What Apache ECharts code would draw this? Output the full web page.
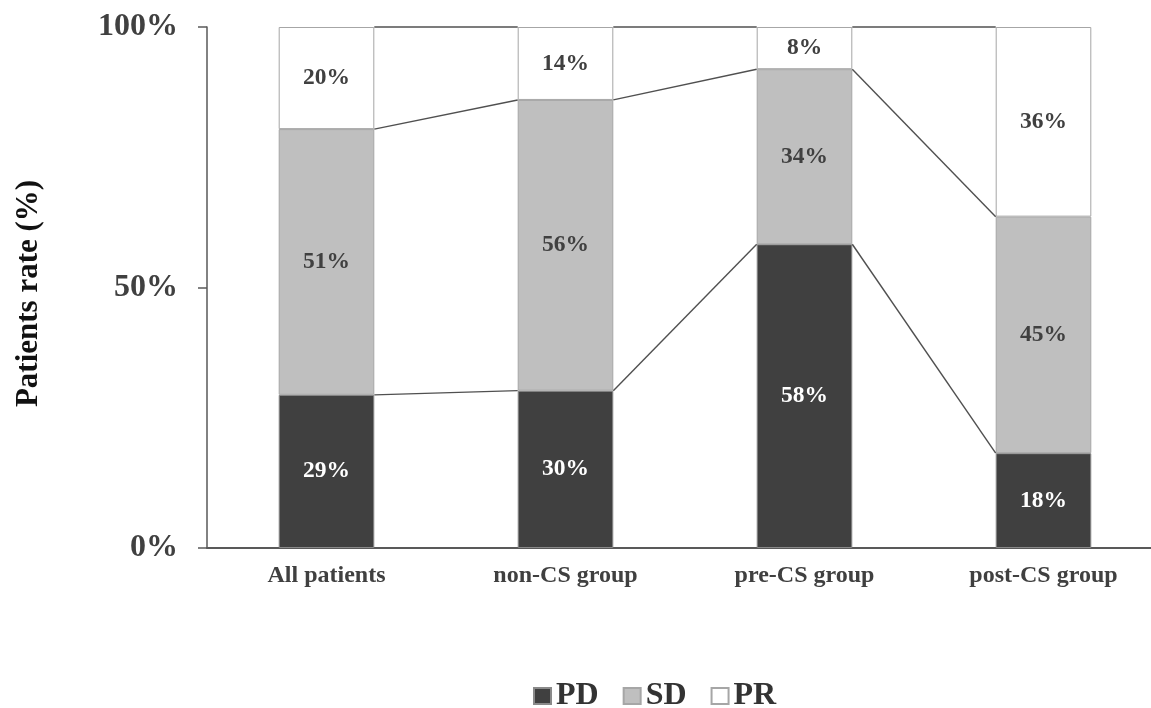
<!DOCTYPE html>
<html>
<head>
<meta charset="utf-8">
<script src="https://cdn.jsdelivr.net/npm/echarts@6/dist/echarts.min.js"></script>
<style>
html,body{margin:0;padding:0;background:#fff;overflow:hidden;width:1151px;height:708px;}
#chart{width:1170px;height:708px;}
</style>
</head>
<body>
<div id="chart"></div>
<script>
const categories = ['All patients', 'non-CS group', 'pre-CS group', 'post-CS group'];
const seriesNames = ['PD', 'SD', 'PR'];
const pdValues = [29.4, 30.2, 58.3, 18.2];
const sdValues = [51.0, 55.8, 33.6, 45.4];
const prValues = [19.6, 14.0, 8.1, 36.4];
const yTicks = [0, 50, 100];

const FONT = '"Liberation Serif", "Times New Roman", serif';
const BAR_FRAC = 0.4;

// cumulative boundaries for connector lines
const cum1 = pdValues.map((v) => v);
const cum2 = pdValues.map((v, i) => v + sdValues[i]);
const cum3 = pdValues.map((v, i) => v + sdValues[i] + prValues[i]);
const connectorData = [];
[cum1, cum2, cum3].forEach((arr) => {
  for (let i = 0; i < arr.length - 1; i++) {
    connectorData.push([i, arr[i], arr[i + 1]]);
  }
});

const chart = echarts.init(document.getElementById('chart'), null, {renderer: 'canvas'});

function labelFmt(p) { return Math.round(p.value) + '%'; }

const barCommon = {
  type: 'bar',
  stack: 'total',
  barWidth: (BAR_FRAC * 100) + '%',
  z: 2
};

chart.setOption({
  animation: false,
  backgroundColor: '#ffffff',
  grid: {left: 207, top: 27, bottom: 160, width: 956},
  legend: {
    data: seriesNames,
    left: 533,
    top: 680,
    padding: 0,
    icon: 'rect',
    itemWidth: 17,
    itemHeight: 16,
    itemGap: 24,
    textStyle: {fontFamily: FONT, fontWeight: 'bold', fontSize: 32, color: '#333333'}
  },
  xAxis: {
    type: 'category',
    data: categories,
    axisLine: {lineStyle: {color: '#595959', width: 2}},
    axisTick: {show: false},
    axisLabel: {
      fontFamily: FONT, fontWeight: 'bold', fontSize: 24, color: '#404040', margin: 16
    }
  },
  yAxis: {
    type: 'value',
    min: 0,
    max: 100,
    interval: 50,
    name: 'Patients rate (%)',
    nameLocation: 'middle',
    nameRotate: 90,
    nameGap: 163,
    nameTextStyle: {fontFamily: FONT, fontWeight: 'bold', fontSize: 31, color: '#111111', padding: [0, 12, 0, 0]},
    splitLine: {show: false},
    axisLine: {show: true, lineStyle: {color: '#595959', width: 1.5}},
    axisTick: {show: true, length: 9, lineStyle: {color: '#595959', width: 1.5}},
    axisLabel: {
      formatter: (v) => yTicks.includes(v) ? v + '%' : '',
      fontFamily: FONT, fontWeight: 'bold', fontSize: 32, color: '#404040', margin: 29
    }
  },
  series: [
    Object.assign({}, barCommon, {
      name: 'PD',
      data: pdValues,
      itemStyle: {color: '#404040', borderColor: '#8a8a8a', borderWidth: 1},
      label: {show: true, position: 'inside', formatter: labelFmt,
        fontFamily: FONT, fontWeight: 'bold', fontSize: 23.5, color: '#ffffff'}
    }),
    Object.assign({}, barCommon, {
      name: 'SD',
      data: sdValues,
      itemStyle: {color: '#bfbfbf', borderColor: '#a6a6a6', borderWidth: 1},
      label: {show: true, position: 'inside', formatter: labelFmt,
        fontFamily: FONT, fontWeight: 'bold', fontSize: 23.5, color: '#404040'}
    }),
    Object.assign({}, barCommon, {
      name: 'PR',
      data: prValues,
      itemStyle: {color: '#ffffff', borderColor: '#a6a6a6', borderWidth: 1},
      label: {show: true, position: 'inside', formatter: labelFmt,
        fontFamily: FONT, fontWeight: 'bold', fontSize: 23.5, color: '#404040'}
    }),
    {
      type: 'custom',
      name: 'connectors',
      data: connectorData,
      encode: {x: 0, y: [1, 2]},
      z: 3,
      silent: true,
      renderItem: function (params, api) {
        const i = api.value(0);
        const p1 = api.coord([i, api.value(1)]);
        const p2 = api.coord([i + 1, api.value(2)]);
        const half = api.size([1, 0])[0] * BAR_FRAC / 2;
        return {
          type: 'line',
          shape: {x1: p1[0] + half, y1: p1[1], x2: p2[0] - half, y2: p2[1]},
          style: {stroke: '#505050', lineWidth: 1.4}
        };
      }
    }
  ]
});
</script>
</body>
</html>
